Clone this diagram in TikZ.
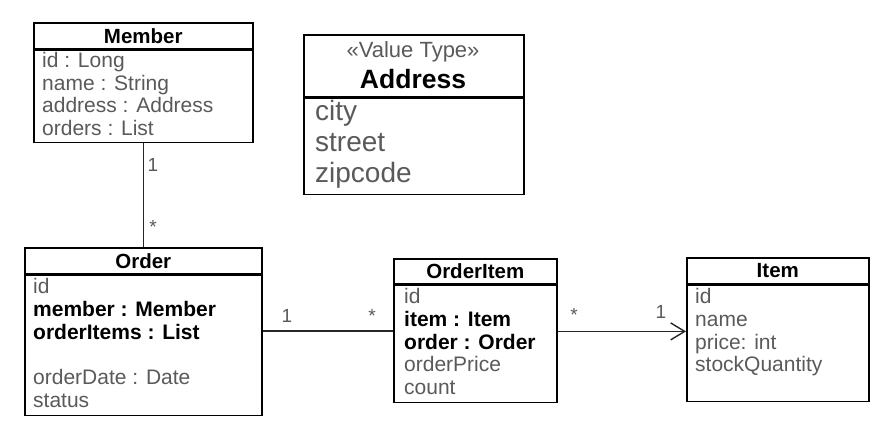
\documentclass[tikz,border=0pt]{standalone}
\usepackage{fontspec}
\setmainfont{Liberation Sans}
\usetikzlibrary{arrows.meta}
\definecolor{umlgray}{HTML}{5A5A5A}
\tikzset{umlhead/.style={draw,line width=1.6pt,anchor=north west,inner sep=0pt,font=\fontsize{20.5}{24}\selectfont\bfseries},
         umlbody/.style={draw,line width=1.6pt,anchor=north west,inner sep=0pt},
         umlattr/.style={anchor=base west,inner sep=0pt,text=umlgray,font=\fontsize{21}{24}\selectfont},
         umlbig/.style={umlattr,font=\fontsize{28}{30}\selectfont},
         umlmult/.style={inner sep=0pt,text=umlgray,font=\fontsize{19}{20}\selectfont},
         umlline/.style={line width=1.4pt,draw=black!85}}
\newcommand{\umlkey}[1]{{\bfseries\color{black}#1}}

\begin{document}
\begin{tikzpicture}[x=1pt,y=-1pt]
  \useasboundingbox[fill=white] (0,0) rectangle (896,436);
  % Member
  \node[umlhead,minimum width=219pt,minimum height=26pt] (memberH) at (33,22) {Member};
  \node[umlbody,minimum width=219pt,minimum height=92pt] (memberB) at (memberH.south west) {};
  \foreach \t [count=\i] in {id : Long, name : String, address : Address, orders : List}
    \node[umlattr] (memA\i) at (42,{67.5+22.5*(\i-1)}) {\t};
  % Address (value type)
  \node[umlbody,minimum width=220pt,minimum height=62pt] (addressH) at (303,34) {};
  \node[umlbody,minimum width=220pt,minimum height=96pt] (addressB) at (addressH.south west) {};
  \node[anchor=base,inner sep=0pt,text=umlgray,font=\fontsize{22}{24}\selectfont] (addrSt) at (413,58) {«Value Type»};
  \node[anchor=base,inner sep=0pt,font=\fontsize{26.5}{30}\selectfont\bfseries] (addrN) at (413,88) {Address};
  \foreach \t [count=\i] in {city, street, zipcode}
    \node[umlbig] (addrA\i) at (315,{120+31*(\i-1)}) {\t};
  % Order
  \node[umlhead,minimum width=237pt,minimum height=26pt] (orderH) at (24,247) {Order};
  \node[umlbody,minimum width=237pt,minimum height=140pt] (orderB) at (orderH.south west) {};
  \foreach \t/\k [count=\i] in {id/0, \umlkey{member : Member}/1, \umlkey{orderItems : List}/2,
                                orderDate : Date/4, status/5}
    \node[umlattr] (ordA\i) at (33,{293.5+22.8*\k}) {\t};
  % OrderItem
  \node[umlhead,minimum width=163pt,minimum height=25pt] (orderitemH) at (393,258) {OrderItem};
  \node[umlbody,minimum width=163pt,minimum height=117pt] (orderitemB) at (orderitemH.south west) {};
  \foreach \t [count=\i] in {id, \umlkey{item : Item}, \umlkey{order : Order}, orderPrice, count}
    \node[umlattr] (oiA\i) at (404,{303.5+22.75*(\i-1)}) {\t};
  % Item
  \node[umlhead,minimum width=182pt,minimum height=26pt] (itemH) at (686,257) {Item};
  \node[umlbody,minimum width=182pt,minimum height=116pt] (itemB) at (itemH.south west) {};
  \foreach \t [count=\i] in {id, name, price: int, stockQuantity}
    \node[umlattr] (itA\i) at (695,{303.5+22.75*(\i-1)}) {\t};
  % associations
  \draw[umlline] (memberB.south) -- (orderH.north);
  \node[umlmult] (mo1) at (153,165) {1};
  \node[umlmult] (mo2) at (153,227) {*};
  \draw[umlline] ([yshift=14.5pt]orderB.east) -- ([yshift=14.5pt]orderB.east -| orderitemB.west);
  \node[umlmult] (oo1) at (287,316) {1};
  \node[umlmult] (oo2) at (372,316) {*};
  \draw[umlline,-{Straight Barb[length=14pt,width=17pt]}] ([yshift=12.5pt]orderitemB.east)
    -- ([yshift=12.5pt]orderitemB.east -| itemB.west);
  \node[umlmult] (oi1) at (574,315) {*};
  \node[umlmult] (oi2) at (661,312) {1};
\end{tikzpicture}
\end{document}
